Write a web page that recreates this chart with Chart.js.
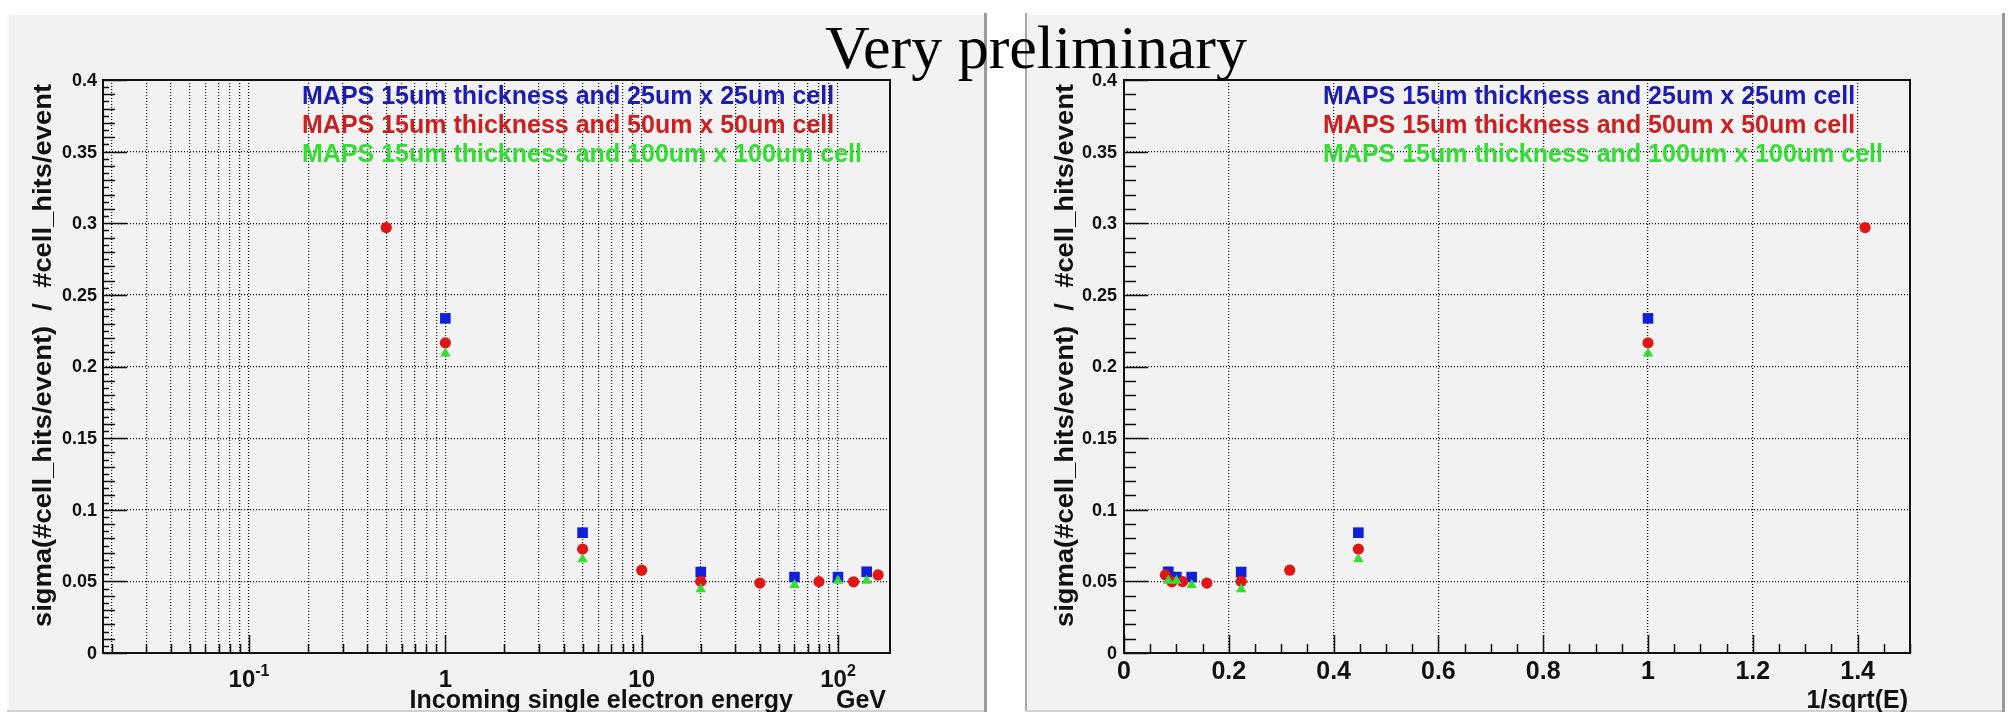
<!DOCTYPE html>
<html>
<head>
<meta charset="utf-8">
<script src="https://cdn.jsdelivr.net/npm/chart.js@4/dist/chart.umd.min.js"></script>
<style>
html,body{margin:0;padding:0;background:#fff;}
body{width:2015px;height:720px;position:relative;overflow:hidden;}
canvas{position:absolute;}
#title{position:absolute;left:0;top:16px;width:2072px;text-align:center;font-family:"Liberation Serif","Times New Roman",serif;font-size:62px;line-height:62px;color:#000;z-index:5;white-space:nowrap;}
</style>
</head>
<body>
<canvas id="left" width="980" height="699" style="left:7px;top:13px;"></canvas>
<canvas id="right" width="980" height="699" style="left:1025px;top:13px;"></canvas>
<div id="title">Very preliminary</div>
<script>
// ---------------- data ----------------
const seriesLabels = [
  'MAPS 15um thickness and 25um x 25um cell',
  'MAPS 15um thickness and 50um x 50um cell',
  'MAPS 15um thickness and 100um x 100um cell'
];
const seriesColors = ['#1020d8', '#e01515', '#30e030'];
const legendColors = ['#1c1cb0', '#cc2020', '#33dd33'];

const energyBlue = [1, 5, 20, 60, 100, 140];
const sigmaBlue  = [0.2336, 0.0840, 0.0565, 0.0530, 0.0530, 0.0567];

const energyRed  = [0.5, 1, 5, 10, 20, 40, 80, 120, 160];
const sigmaRed   = [0.2970, 0.2165, 0.0725, 0.0578, 0.0500, 0.0488, 0.0498, 0.0497, 0.0545];

const energyGreen = [1, 5, 20, 60, 100, 140];
const sigmaGreen  = [0.2090, 0.0655, 0.0445, 0.0475, 0.0505, 0.0505];

const yTickValues = [0, 0.05, 0.1, 0.15, 0.2, 0.25, 0.3, 0.35, 0.4];
const yTickLabels = ['0', '0.05', '0.1', '0.15', '0.2', '0.25', '0.3', '0.35', '0.4'];

const logDecades = [0.01, 0.1, 1, 10, 100];
const logMultipliers = [1, 2, 3, 4, 5, 6, 7, 8, 9];
const leftXLabels = [
  {v: 0.1, base: '10', exp: '-1'},
  {v: 1, base: '1', exp: ''},
  {v: 10, base: '10', exp: ''},
  {v: 100, base: '10', exp: '2'}
];
const rightXTickValues = [0, 0.2, 0.4, 0.6, 0.8, 1, 1.2, 1.4];
const rightXTickLabels = ['0', '0.2', '0.4', '0.6', '0.8', '1', '1.2', '1.4'];

const yTitle = 'sigma(#cell_hits/event)  /  #cell_hits/event';
const leftXTitle = 'Incoming single electron energy';
const leftXUnit = 'GeV';
const rightXTitle = '1/sqrt(E)';

const xMinLeft = 0.01804, xMaxLeft = 184;
const xMinRight = 0, xMaxRight = 1.5;
const yMin = 0, yMax = 0.4;

// --------------- helpers ---------------
const FONT = '"Liberation Sans", Arial, Helvetica, sans-serif';
const INK = '#111';

const xGridLeft = logDecades
  .flatMap(d => logMultipliers.map(m => +(d * m).toPrecision(3)))
  .filter(v => v >= xMinLeft && v <= xMaxLeft);

function pts(es, ss, tf) { return es.map((e, i) => ({x: tf(e), y: ss[i]})); }

function datasets(tf) {
  return [
    {label: seriesLabels[0], data: pts(energyBlue, sigmaBlue, tf), pointStyle: 'rect', pointRadius: 7.5,
     backgroundColor: seriesColors[0], borderColor: seriesColors[0], borderWidth: 0, order: 2},
    {label: seriesLabels[1], data: pts(energyRed, sigmaRed, tf), pointStyle: 'circle', pointRadius: 5.6,
     backgroundColor: seriesColors[1], borderColor: seriesColors[1], borderWidth: 0, order: 1},
    {label: seriesLabels[2], data: pts(energyGreen, sigmaGreen, tf), pointStyle: 'triangle', pointRadius: 6,
     backgroundColor: seriesColors[2], borderColor: seriesColors[2], borderWidth: 0, order: 0}
  ];
}

function decor(cfg) {
  return {
    id: 'decor',
    beforeDraw(chart) {
      const c = chart.ctx, W = chart.width, H = chart.height;
      c.save();
      c.fillStyle = '#f2f2f2'; c.fillRect(0, 0, W, H);
      c.fillStyle = '#fbfbfb'; c.fillRect(0, 0, W, 2);
      c.fillStyle = cfg.leftEdge; c.fillRect(0, 0, 2, H);
      c.fillStyle = '#d2d2d2'; c.fillRect(0, H - 2, W, 2);
      c.fillStyle = '#9a9a9a'; c.fillRect(W - 3, 0, 3, H);
      c.restore();
    },
    afterDraw(chart) {
      const c = chart.ctx, a = chart.chartArea;
      const xs = chart.scales.x, ys = chart.scales.y;
      c.save();
      c.strokeStyle = INK; c.fillStyle = INK;
      // y ticks (inside)
      c.lineWidth = 1.5;
      const nY = Math.round((yMax - yMin) / cfg.yMinor);
      for (let i = 0; i <= nY; i++) {
        const v = yMin + i * cfg.yMinor;
        const y = Math.round(ys.getPixelForValue(v)) + 0.5;
        const len = cfg.yLen(i);
        c.beginPath(); c.moveTo(a.left, y); c.lineTo(a.left + len, y); c.stroke();
      }
      // x ticks (inside)
      cfg.xTicks(xs).forEach(t => {
        const x = Math.round(xs.getPixelForValue(t.v)) + 0.5;
        c.beginPath(); c.moveTo(x, a.bottom); c.lineTo(x, a.bottom - t.len); c.stroke();
      });
      // frame
      c.lineWidth = 2;
      c.strokeRect(a.left, a.top, a.right - a.left, a.bottom - a.top);
      // y labels
      c.font = 'bold 18px ' + FONT;
      c.textAlign = 'right'; c.textBaseline = 'middle';
      yTickValues.forEach((v, i) => {
        c.fillText(yTickLabels[i], a.left - cfg.yLabelGap, ys.getPixelForValue(v) + 1);
      });
      // x labels
      cfg.xLabels(c, xs, a);
      // y title
      c.save();
      c.font = 'bold 25px ' + FONT;
      c.translate(cfg.yTitleX, (a.top + a.bottom) / 2 - 11);
      c.rotate(-Math.PI / 2);
      const w = c.measureText(yTitle).width;
      c.scale(543 / w, 1);
      c.textAlign = 'center'; c.textBaseline = 'middle';
      c.fillText(yTitle, 0, 0);
      c.restore();
      // x title
      cfg.xTitle(c, a);
      // legend text
      c.font = 'bold 25px ' + FONT;
      c.textAlign = 'left'; c.textBaseline = 'alphabetic';
      seriesLabels.forEach((s, i) => {
        c.fillStyle = legendColors[i];
        c.fillText(s, cfg.legendX, a.top + 24 + i * 29);
      });
      c.restore();
    }
  };
}

function makeChart(id, type, xOpts, tf, cfg, padding) {
  return new Chart(document.getElementById(id), {
    type: 'scatter',
    data: {datasets: datasets(tf)},
    options: {
      responsive: false, animation: false, devicePixelRatio: 1, events: [],
      layout: {padding: padding},
      plugins: {legend: {display: false}, tooltip: {enabled: false}},
      scales: {
        x: Object.assign({
          type: type,
          ticks: {display: false, autoSkip: false},
          grid: {color: '#000', lineWidth: 1.2, drawTicks: false},
          border: {display: false, dash: [1, 2]},
          afterFit: s => { s.height = 0; }
        }, xOpts),
        y: {
          type: 'linear', min: yMin, max: yMax,
          ticks: {display: false, stepSize: 0.05},
          grid: {color: '#000', lineWidth: 1.2, drawTicks: false},
          border: {display: false, dash: [1, 2]},
          afterFit: s => { s.width = 0; }
        }
      }
    },
    plugins: [decor(cfg)]
  });
}

// ---------------- left chart (log energy) ----------------
makeChart('left', 'logarithmic', {
  min: xMinLeft, max: xMaxLeft,
  afterBuildTicks: s => { s.ticks = xGridLeft.map(v => ({value: v})); }
}, e => e, {
  leftEdge: '#fbfbfb',
  yMinor: 0.005,
  yLen: i => (i % 10 === 0 ? 24 : (i % 2 === 0 ? 12 : 6)),
  yLabelGap: 6,
  xTicks: xs => xGridLeft.map(v => ({v: v, len: Math.abs(Math.log10(v) - Math.round(Math.log10(v))) < 1e-9 ? 18 : 9})),
  xLabels: (c, xs, a) => {
    leftXLabels.forEach(l => {
      c.font = 'bold 24px ' + FONT;
      const bw = c.measureText(l.base).width;
      c.font = 'bold 16px ' + FONT;
      const ew = l.exp ? c.measureText(l.exp).width : 0;
      const px = xs.getPixelForValue(l.v);
      const x0 = px - (bw + ew) / 2;
      c.textAlign = 'left'; c.textBaseline = 'middle';
      c.font = 'bold 24px ' + FONT;
      c.fillText(l.base, x0, a.bottom + 27);
      if (l.exp) { c.font = 'bold 16px ' + FONT; c.fillText(l.exp, x0 + bw, a.bottom + 19); }
    });
  },
  yTitleX: 37,
  xTitle: (c, a) => {
    c.font = 'bold 25px ' + FONT;
    c.textAlign = 'right'; c.textBaseline = 'alphabetic';
    c.fillText(leftXTitle, 786, a.bottom + 55);
    c.fillText(leftXUnit, a.right - 4, a.bottom + 55);
  },
  legendX: 295
}, {left: 96, top: 67, right: 97, bottom: 59});

// ---------------- right chart (1/sqrt(E)) ----------------
makeChart('right', 'linear', {
  min: xMinRight, max: xMaxRight,
  ticks: {display: false, autoSkip: false, stepSize: 0.2}
}, e => 1 / Math.sqrt(e), {
  leftEdge: '#a8a8a8',
  yMinor: 0.01,
  yLen: i => (i % 5 === 0 ? 24 : 12),
  yLabelGap: 7,
  xTicks: xs => {
    const out = [];
    for (let i = 0; i <= 30; i++) out.push({v: i * 0.05, len: i % 4 === 0 ? 18 : 9});
    return out;
  },
  xLabels: (c, xs, a) => {
    c.font = 'bold 25px ' + FONT;
    c.textAlign = 'center'; c.textBaseline = 'middle';
    rightXTickValues.forEach((v, i) => c.fillText(rightXTickLabels[i], xs.getPixelForValue(v), a.bottom + 19));
  },
  yTitleX: 41,
  xTitle: (c, a) => {
    c.font = 'bold 25px ' + FONT;
    c.textAlign = 'right'; c.textBaseline = 'alphabetic';
    c.fillText(rightXTitle, a.right - 2, a.bottom + 55);
  },
  legendX: 298
}, {left: 99, top: 67, right: 95, bottom: 59});
</script>
</body>
</html>
